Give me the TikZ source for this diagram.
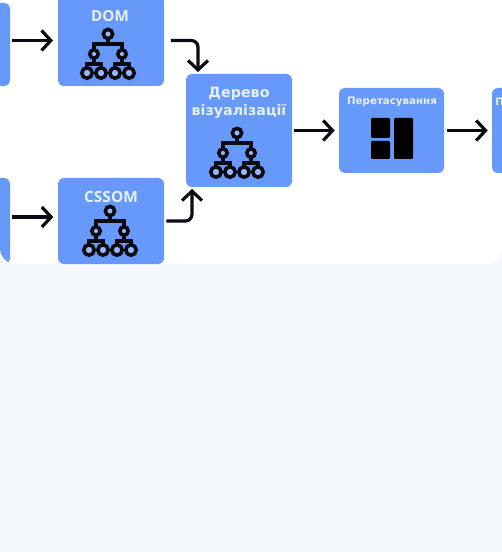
\documentclass[tikz,border=0pt]{standalone}
\usepackage{fontspec}
\setmainfont{DejaVu Sans}
\newfontfamily\opensans{Open Sans}
\usetikzlibrary{arrows.meta}
\definecolor{pagebg}{HTML}{F4F7FB}
\definecolor{boxblue}{HTML}{6699FA}
\definecolor{boxtext}{HTML}{E6EFFF}
\definecolor{ink}{HTML}{0A0A12}
\tikzset{
  box/.style={fill=boxblue,rounded corners=4.5pt,inner sep=0pt,minimum width=79.5pt},
  label/.style={text=boxtext,inner sep=0pt,font=\bfseries,align=center},
  conn/.style={draw=ink,line width=2.4pt,-{Straight Barb[length=7pt,width=15pt,line width=2.4pt]},rounded corners=5pt},
  treeline/.style={draw=ink,line width=3pt},
  ring/.style={draw=ink,fill=boxblue!70!white,line width=2.7pt},
  block/.style={fill=black,rounded corners=0.8pt},
  treeicon/.pic={
    \draw[treeline] (0,0) -- (0,10) (-14,20) -- (-14,10) -- (14,10) -- (14,20);
    \draw[treeline] (-21,38) -- (-21,30) -- (-7,30) -- (-7,38) (-14,20) -- (-14,30);
    \draw[treeline] (21,38) -- (21,30) -- (7,30) -- (7,38) (14,20) -- (14,30);
    \draw[ring] (0,0) circle[radius=4.6];
    \foreach \cx in {-14,14} \draw[ring] (\cx,20) circle[radius=4.2];
    \foreach \cx in {-21,-7,7,21} \draw[ring] (\cx,39) circle[radius=5.2];
  }
}
\begin{document}
\begin{tikzpicture}[x=0.75pt,y=-0.75pt]
\useasboundingbox (0,0) rectangle (502,552);
\fill[pagebg] (0,0) rectangle (502,552);
\begin{scope}
\clip (-20,-20) -- (522,-20) -- (502,248) arc[start angle=0,end angle=90,radius=16] -- (16,264) arc[start angle=90,end angle=180,radius=16] -- cycle;
\fill[white] (0,0) rectangle (502,264);
\node[box,minimum height=62.25pt] (left1) at (-43,44.5) {};
\node[box,minimum height=64.5pt] (left2) at (-43,221) {};
\node[box,minimum height=68.25pt] (dom) at (111,40.5) {};
\node[box,minimum height=64.5pt] (cssom) at (111,221) {};
\node[box,minimum height=84.75pt] (tree) at (239,130.5) {};
\node[box,minimum height=63.75pt,minimum width=78.75pt] (shuffle) at (391.5,130.5) {};
\node[box,minimum height=63.75pt] (nextbox) at (545,130.5) {};
\end{scope}
\node[label,font=\opensans\bfseries\fontsize{11.4pt}{12pt}\selectfont] (domt) at (110,16.5) {DOM};
\node[label,font=\opensans\bfseries\fontsize{11.6pt}{12pt}\selectfont] (cssomt) at (111,197) {CSSOM};
\node[label,font=\bfseries\fontsize{10.7pt}{13.5pt}\selectfont] (treet) at (239,103) {Дерево\\[-0.5pt]візуалізації};
\node[label,font=\bfseries\fontsize{7.7pt}{8pt}\selectfont] (shufflet) at (392,101.5) {Перетасування};
\node[label,font=\bfseries\fontsize{7.7pt}{8pt}\selectfont,anchor=west] (nextt) at (495,101.5) {П};
\pic at (108,34) {treeicon};
\pic at (110,211) {treeicon};
\pic at (237,133) {treeicon};
\fill[block] (371,118) rectangle (390,138);
\fill[block] (371,141) rectangle (390,159);
\fill[block] (394,118) rectangle (413,159);
\coordinate (cw) at (58,217);
\coordinate (t1) at (198,74);
\coordinate (t2) at (192,187);
\draw[conn,shorten <=1.5pt,shorten >=3.5pt] (left1.east |- dom.west) -- (dom.west);
\draw[conn,shorten <=1.5pt,shorten >=3.5pt] (left2.east |- cw) -- (cw);
\draw[conn,shorten <=5pt,shorten >=1.5pt] (dom.east) -| (t1);
\draw[conn,shorten <=1.5pt,shorten >=1.5pt] (cssom.east) -| (t2);
\draw[conn,shorten <=1.5pt,shorten >=3pt] (tree.east) -- (shuffle.west);
\draw[conn,shorten <=2pt,shorten >=3pt] (shuffle.east) -- (nextbox.west);
\end{tikzpicture}
\end{document}
